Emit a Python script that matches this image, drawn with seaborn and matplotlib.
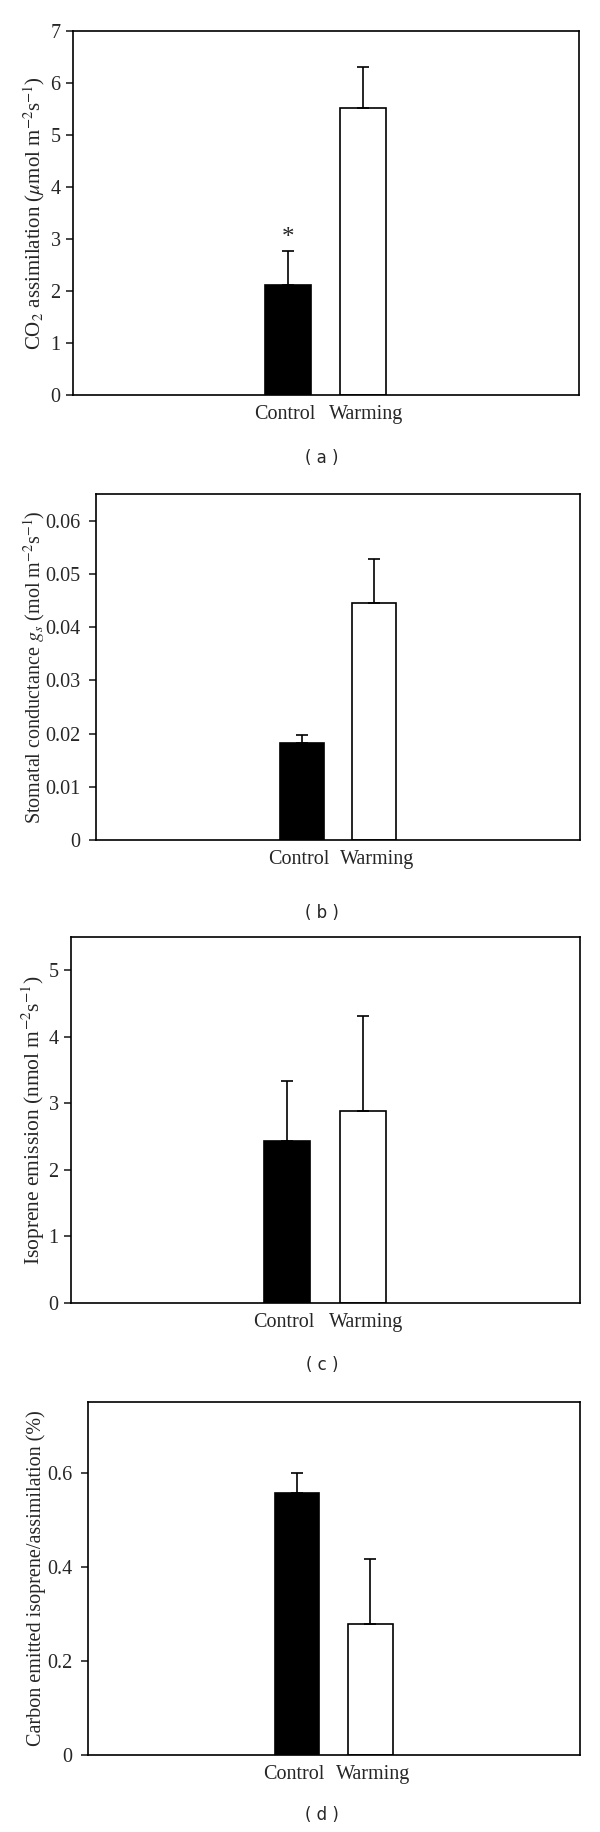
import matplotlib
matplotlib.use("Agg")
import matplotlib.pyplot as plt
import matplotlib.transforms as mtransforms
import seaborn as sns

treatments = ["Control", "Warming"]
bar_colors = ["black", "white"]

assim_mean = [2.12, 5.52]
assim_se = [0.65, 0.79]

gs_mean = [0.0183, 0.0445]
gs_se = [0.0014, 0.0083]

iso_mean = [2.43, 2.88]
iso_se = [0.90, 1.44]

ratio_mean = [0.556, 0.279]
ratio_se = [0.043, 0.138]

W, H = 600, 1832

sns.set_style("ticks")
plt.rcParams["font.family"] = ["Liberation Serif", "DejaVu Serif"]
plt.rcParams["mathtext.fontset"] = "stix"

fig = plt.figure(figsize=(W / 100, H / 100), dpi=100)


def add_axes(left, right, top, bottom):
    return fig.add_axes([left / W, 1 - bottom / H, (right - left) / W, (bottom - top) / H])


panels = [
    # (axes box px, means, errors, ylim, yticks, ticklabels, ylabel, label size, label x, tick pad, caption, caption y)
    ((73, 579, 31, 395), assim_mean, assim_se, 7, [0, 1, 2, 3, 4, 5, 6, 7],
     ["0", "1", "2", "3", "4", "5", "6", "7"],
     r"CO$_2$ assimilation ($\mu$mol m$^{-2}$s$^{-1}$)", 15, 47, 4, "( a )", 458),
    ((96, 580, 494, 840), gs_mean, gs_se, 0.065, [0, 0.01, 0.02, 0.03, 0.04, 0.05, 0.06],
     ["0", "0.01", "0.02", "0.03", "0.04", "0.05", "0.06"],
     r"Stomatal conductance $g_s$ (mol m$^{-2}$s$^{-1}$)", 14.5, 47, 6, "( b )", 913),
    ((71, 580, 937, 1303), iso_mean, iso_se, 5.5, [0, 1, 2, 3, 4, 5],
     ["0", "1", "2", "3", "4", "5"],
     r"Isoprene emission (nmol m$^{-2}$s$^{-1}$)", 15.5, 47, 4, "( c )", 1365),
    ((88, 580, 1402, 1755), ratio_mean, ratio_se, 0.75, [0, 0.2, 0.4, 0.6],
     ["0", "0.2", "0.4", "0.6"],
     "Carbon emitted isoprene/assimilation (%)", 14.5, 46, 6, "( d )", 1815),
]

axes = []
for (box, means, errs, ytop, yticks, yticklabels, ylabel, lab_size, lab_x, pad,
     caption, cap_y) in panels:
    ax = add_axes(*box)
    sns.barplot(x=treatments, y=means, hue=treatments, palette=bar_colors, legend=False,
                edgecolor="black", linewidth=1.2, width=0.61, errorbar=None, ax=ax)
    ax.errorbar([0, 1], means, yerr=[[0, 0], errs], fmt="none", ecolor="black",
                elinewidth=1.2, capsize=4.5, capthick=1.2)
    ax.set_xlim(-2.85, 3.86)
    ax.set_ylim(0, ytop)
    ax.set_yticks(yticks)
    ax.set_yticklabels(yticklabels)
    ax.tick_params(axis="y", direction="out", length=5, width=1.2, labelsize=14.5, pad=pad)
    ax.tick_params(axis="x", length=0, labelsize=14.5, pad=7)
    for s in ax.spines.values():
        s.set_visible(True)
        s.set_linewidth(1.2)
        s.set_color("black")
    ax.set_xlabel("")
    ax.set_ylabel(ylabel, fontsize=lab_size)
    trans = mtransforms.blended_transform_factory(fig.transFigure, ax.transAxes)
    ax.yaxis.set_label_coords(lab_x / W, 0.5, transform=trans)
    fig.text(322 / W, 1 - cap_y / H, caption, ha="center", va="center",
             fontsize=12, family="DejaVu Sans")
    axes.append(ax)

# nudge the two category labels apart a little, as in the original figure
for ax in axes:
    labels = ax.get_xticklabels()
    labels[0].set_transform(labels[0].get_transform() + mtransforms.Affine2D().translate(-3, 0))
    labels[1].set_transform(labels[1].get_transform() + mtransforms.Affine2D().translate(3, 0))

# significance marker above control bar in panel (a)
axes[0].text(0, assim_mean[0] + assim_se[0] + 0.25, "*", ha="center", va="center", fontsize=18)

fig.savefig("out.png", dpi=100)
